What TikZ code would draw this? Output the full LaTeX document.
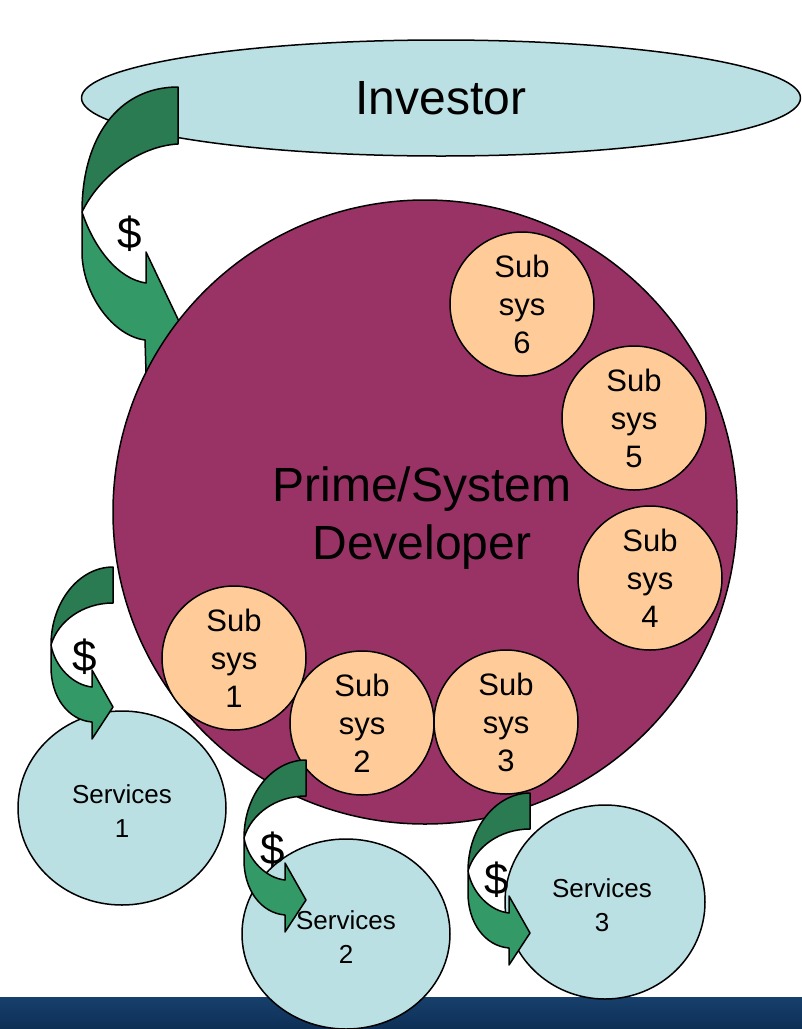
\documentclass[tikz,border=0pt]{standalone}
\usepackage{fontspec}
\setmainfont{Liberation Sans}
\usetikzlibrary{shapes.geometric}
\definecolor{iceblue}{RGB}{187,224,227}
\definecolor{plum}{RGB}{153,51,102}
\definecolor{peach}{RGB}{255,204,153}
\definecolor{darkgreen}{RGB}{42,122,82}
\definecolor{lightgreen}{RGB}{51,153,102}
\definecolor{bartop}{RGB}{23,64,108}
\definecolor{barbot}{RGB}{13,47,86}
\newcommand\smallarrow[2]{%
  \begin{scope}[shift={(#1,#2)}]
    \filldraw[darkband] (0,0) .. controls (-34,0) and (-62,35) .. (-62,78)
      .. controls (-55,54) and (-30,36) .. (0,36) -- cycle;
    \filldraw[lightband] (-62,78) -- (-62,100) .. controls (-62,130) and (-45,153) .. (-21,155)
      -- (-21,172) -- (0,140) -- (-21,103) -- (-21,120)
      .. controls (-40,118) and (-58,100) .. (-62,78) -- cycle;
  \end{scope}}
\begin{document}
\begin{tikzpicture}[x=1pt,y=-1pt,line width=1.5pt,line join=round,
  subsys/.style={circle,draw,fill=peach,minimum size=144pt,inner sep=0pt,align=center,font=\fontsize{31}{38}\selectfont},
  service/.style={ellipse,draw,fill=iceblue,inner sep=0pt},
  servtext/.style={align=center,inner sep=0pt,font=\fontsize{26}{34}\selectfont},
  dollar/.style={inner sep=0pt,font=\fontsize{44}{48}\selectfont},
  darkband/.style={draw=black,fill=darkgreen},
  lightband/.style={draw=black,fill=lightgreen}]
\useasboundingbox (0,0) rectangle (802,1029);
% bottom bar
\shade[top color=bartop,bottom color=barbot] (0,997) rectangle (802,1029);
% investor
\node[ellipse,draw,fill=iceblue,minimum width=719pt,minimum height=116pt,inner sep=0pt,
  font=\fontsize{48}{54}\selectfont] (inv) at (441,98) {Investor};
% investor arrow
\filldraw[darkband] (178,87) .. controls (118,87) and (82,138) .. (82,212)
  .. controls (100,175) and (140,146) .. (178,144) -- cycle;
\filldraw[lightband] (82,212) -- (82,255) .. controls (84,297) and (114,336) .. (145,340)
  -- (146,372) -- (186,336) -- (146,252) -- (146,283)
  .. controls (118,279) and (94,248) .. (82,212) -- cycle;
% prime
\node[circle,draw,fill=plum,minimum size=624pt,inner sep=0pt] (prime) at (425,512) {};
\node[align=center,inner sep=0pt,font=\fontsize{48}{58}\selectfont] (primetext) at (422,518) {Prime/System\\Developer};
% subsystems
\node[subsys] (s6) at (522,304) {Sub\\sys\\6};
\node[subsys] (s5) at (634,418) {Sub\\sys\\5};
\node[subsys] (s4) at (650,578) {Sub\\sys\\4};
\node[subsys] (s1) at (234,658) {Sub\\sys\\1};
\node[subsys] (s2) at (362,723) {Sub\\sys\\2};
\node[subsys] (s3) at (506,722) {Sub\\sys\\3};
% services
\node[service,minimum width=208pt,minimum height=194pt] (sv1) at (122,808) {};
\node[service,minimum width=208pt,minimum height=190pt] (sv2) at (346,934) {};
\node[service,minimum width=200pt,minimum height=194pt] (sv3) at (605,902) {};
% small arrows
\smallarrow{113}{567}
\smallarrow{306}{760}
\smallarrow{530}{793}
% texts
\node[servtext] (t1) at (122,811) {Services\\1};
\node[servtext] (t2) at (346,937) {Services\\2};
\node[servtext] (t3) at (602,905) {Services\\3};
\node[dollar] (d0) at (130,234) {\$};
\node[dollar] (d1) at (85,657) {\$};
\node[dollar] (d2) at (273,850) {\$};
\node[dollar] (d3) at (497,880) {\$};
\end{tikzpicture}
\end{document}
